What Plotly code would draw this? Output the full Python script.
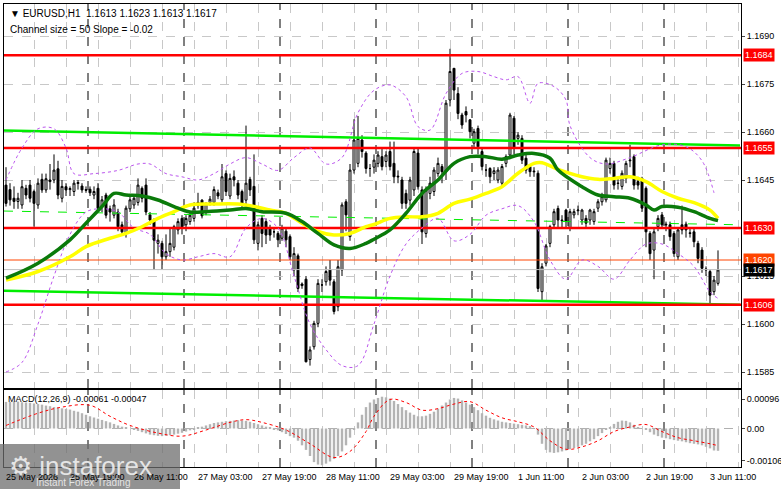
import plotly.graph_objects as go

# ---- data (prices in pips above 1.1600) ----
opens = [43.4,42,39.3,38.3,37.2,42.4,43.4,41.4,37.2,45.2,41.9,45,45,48.5,39.3,42.9,42,41.4,43.9,43.1,42,42.1,40.3,42.4,36.8,40.3,36,34,35,31,28.3,36,37.2,38,42.4,43.4,34.1,32.5,25.2,25.2,21,22.6,24,29.4,33,31,32,
 33,37,38.7,35,38,38,41,38.8,47,40,46,44,41.4,38.7,45.2,43,25.2,33,32,30,28.8,28.3,26.8,29,27.3,16.9,21.3,12.5,14,-11.1,-7.1,0.2,12.2,13.2,16.9,13.2,5.4,16.9,38.2,27.3,48.1,50.2,57.5,53.4,48.6,
 49,50.2,52.3,50.8,53.9,50.2,46.2,45,40.8,38.7,41.9,53.4,41.9,28.3,40.8,41.4,47,49.2,47.6,70,79.9,72,65.3,66.4,63.8,56.5,61.1,53.9,48.1,48.6,47,45,44,50.2,52.8,64.3,58,58,51.8,49.2,47.8,47.1,10.1,19,25.2,31,
 36.1,32.5,35.6,30,34.1,35.4,32.5,33,32.5,32,36.2,38.2,38.8,48.6,50.2,43.9,43,45.5,51,52.3,44.5,45.5,42.4,28.3,23.1,30.4,34.1,31.2,31,28.3,21,31,31.2,28.5,28.8,25.2,23.1,17.2,16.4,10.1,12.7]
closes = [37.7,38.8,38.3,39.3,42.9,40.3,39.3,37.7,44,41.9,45.4,44.5,48.1,40.3,43,41.9,42.3,44,44.2,41.9,41.8,41,41.4,36.2,38.8,34,35,37.2,30.4,28.8,36.2,38.8,39.3,43.4,39.3,35,32.5,26.2,26.2,21,22.6,25.2,30.4,32,30,33,34,
 36.2,38,33.8,37.7,39,42,40,46,41.4,45.5,45,40.3,37.7,44,41.9,26.3,31,28.3,27.8,27.8,28.8,26.3,30,26.3,21,22,11.1,12,-11.8,-8.1,0.2,12.7,12.2,16.4,13.7,3.9,17.9,37.2,34.1,48.1,57.5,58,53.9,48.6,48.6,
 51.2,52.8,49.2,52.8,49.2,46,46,37.7,37.7,45,53.9,42.9,28.8,41.9,44,48.1,50.2,47.6,69,78.9,73.1,65.8,62.2,65.3,60.1,60.1,55.4,49.2,48.1,46,47.9,48.1,49.2,52.3,65.3,54.9,59,51.2,48.1,47.6,47.6,11.1,17.9,24.4,30.4,35.1,
 32.5,32.3,32,35.1,35.1,35.6,35.6,31.5,35.6,35.1,38.2,39.8,51.2,50.2,43.4,44,47.1,50.2,51.2,43.4,43.4,36.2,28.8,22,28.8,33,31,31,27.3,22,29.4,29.4,29.4,28.3,25.7,20.5,17.4,16.9,9,13.7,16.9]
highs = [49,44,43,41,45,43.5,45,42,45.5,47,47,50,53,51,45,44,43,45,45,44,43,43,43,44,40,41,37,39,36,32,37,40,40,45.5,43,45.5,35,33,28,26,28,30,31,33,34,34,35,
 38,41,39,38,40,43,42,50,48,47,48,45,42,62,46,53,32,34,33,31,30,29,31,30,28,24,22,13,15,-7,1,14,14,18,20,14,20,38,39,50,64,65,59,54,50,
 53,54,55,54,57,57,48,46,42,46,55,55,43,43,46,49,52,50,70,86,80,74,66,68,64,61,62,55,50,49,49,49,50,53,66,65,60,59,53,50,49,48,19,25,31,36,
 37,34,36,36,36,37,36,34,36,36,39,41,52,52,51,46,48,51,56,53,46,46,43,29,30,34,35,32,32,29,30,37,32,30,30,26,24,18,17,15,23]
lows = [36.7,37,36,36,36,39,38,30.4,36,41,41,42,44,39,38,40,40,40,42,41,41,40,39,35,35,33,32,33,29,27.5,27,35,36,37,38,34,31,17,22,17,20,21,23,28,28,29,31,
 32,36,33,34,37,37,39,38,40,39,43,39,36,37,40,25,23,24,25,26,27,24,26,24,20,15,10,11,-12,-13,-8,-1,10,12,12,3,4,15,29,26,47,49,52,47,46,
 47,49,48,49,48,44,44,36,36,37,40,42,25,27,39,40,46,44,45,68,70,64,61,63,58,55,53,48,46,44,45,44,43,49,52,53,56,50,47,46,46,10,7,18,24,30,
 30,30,30,29,33,34,31,30,31,31,35,37,38,47,42,42,42,44,49,42,42,35,24,20,14,29,30,29,26,21,20,28,27,27,24,19,16,15,6,9,12]

ma_green_x = [0,8,16,20,24,27,30,34,38,42,46,50,56,60,64,70,74,78,82,86,90,92,96,100,104,108,112,116,120,124,128,132,136,138,144,148,152,156,160,162,164,168,172,176,178]
ma_green_y = [14.3,19,26.3,31.5,36.7,40.8,40.3,40,38.75,36.7,35,35.1,35.6,36.1,35.1,34.6,32,28.3,24.7,23.6,25.2,26.5,29.4,34.6,40.8,45,50.2,52.3,52.3,51.5,52.8,53.3,51.8,48.1,42.9,40.3,39.8,39.3,37.2,35.6,36.7,36.5,35.1,33,32.3]
ma_yellow_x = [0,8,16,20,26,30,34,38,42,46,52,58,62,66,70,74,78,82,86,90,92,96,100,104,108,112,116,120,124,128,132,134,138,144,148,152,156,160,164,168,172,176,178]
ma_yellow_y = [13.75,16.4,21,24.2,26.8,28.3,30.4,33,35.1,37.2,37.5,37.5,36.7,35.6,34.6,31.5,28.9,27.8,28.3,30.4,31.1,33,33.5,33.5,34.6,37.7,39,40.8,42.9,47.1,50.2,50.4,48.3,46,45.2,45.5,46,44.5,41.4,39.3,37.9,35.6,33]
bb_up_x = [0,4,8,12,15,17,22,28,33,36,40,44,48,52,56,60,64,68,72,76,80,84,88,92,96,100,103,106,110,114,118,122,125,128,131,133,137,140,141,146,150,156,164,170,174,177]
bb_up_y = [45,55,61,61,55,47,47,48,50,50,47,46,45,47,50,52,50,48,52,55,50,52,66,73,74.7,71,61.7,60.6,72,78.3,78.9,77.3,76.3,77.3,69,75.2,74.2,70,62,52,50,52,56,55.4,51,41]
bb_lo_x = [0,4,8,12,16,20,24,28,32,36,40,44,48,52,56,60,64,68,72,76,80,84,88,92,96,100,104,108,112,116,120,124,128,132,136,140,144,148,152,156,160,164,168,172,176,178]
bb_lo_y = [-15,-12,0,15,28,35,36,35,30,28,22,20,21,22,21,30,33,30,15,0,-8,-13,-13,0,15,25,30,33,26,28,34,36,37,32,20,14,20,18,14,20,25,25,22,18,10,8]

chan_x = [0, 184]
chan_upper = [60.5, 55.8]
chan_mid = [35.3, 31.0]
chan_lower = [10.4, 6.0]

levels_red = [84, 55, 30, 6]
level_orange = 20
level_last = 17

macd_hist = [87,87,88,88,86,85,84,82,80,78,75,73,70,68,66,64,62,58,55,50,45,
 40,36,32,28,24,20,15,10,6,3,0,-4,-8,-12,-16,-20,-22,-24,-25,-24,
 -22,-20,-17,-14,-10,-6,-2,2,6,10,14,18,20,22,24,25,26,27,26,25,
 22,18,14,10,6,2,-2,-6,-12,-18,-25,-30,-40,-55,-70,-90,-110,-118,-120,-115,
 -108,-100,-90,-75,-55,-30,-5,20,45,70,85,95,100,104,102,98,90,80,70,60,
 52,45,40,40,42,48,55,65,75,85,95,100,98,92,85,78,70,60,50,42,
 35,30,26,22,20,18,16,14,12,10,8,0,-20,-50,-70,-78,-80,-78,-75,-72,
 -68,-64,-60,-55,-50,-42,-35,-25,-15,-5,5,15,22,26,25,20,12,5,0,-5,
 -12,-20,-25,-30,-32,-35,-38,-40,-42,-45,-48,-50,-52,-55,-60,-65,-72,-73]
sig_x = [0,8,14,21,26,31,38,44,50,56,60,64,70,76,82,86,90,92,96,100,104,108,112,116,120,124,128,132,136,140,144,148,152,156,160,164,168,172,176,178]
sig_y = [10,50,70,76,40,10,-15,-25,-5,20,29,20,-5,-50,-95,-75,-10,40,95,85,60,65,80,88,60,35,22,5,-40,-68,-60,-40,-10,5,13,-10,-30,-40,-50,-56]

x_labels = ["25 May 2026","25 May 19:00","26 May 11:00","27 May 03:00","27 May 19:00","28 May 11:00",
            "29 May 03:00","29 May 19:00","1 Jun 11:00","2 Jun 03:00","2 Jun 19:00","3 Jun 11:00"]
day_seps = [21,45,69,93,117,141,165]
price_ticks = [1.1585,1.1600,1.1615,1.1645,1.1660,1.1675,1.1690]

P = lambda v: 1.16 + v / 10000.0
n = len(opens)
xs = [i + 0.5 for i in range(n)]

fig = go.Figure()
for arr, dash, w in [(chan_upper, "solid", 2.5), (chan_lower, "solid", 2.5), (chan_mid, "dash", 1)]:
    fig.add_trace(go.Scatter(x=chan_x, y=[P(v) for v in arr], mode="lines",
                             line=dict(color="#00ee00", width=w, dash=dash), xaxis="x", yaxis="y"))
for lv in levels_red:
    fig.add_trace(go.Scatter(x=[0, 184.25], y=[P(lv)] * 2, mode="lines", line=dict(color="#ff0000", width=2.5)))
fig.add_trace(go.Scatter(x=[0, 184.25], y=[P(level_orange)] * 2, mode="lines", line=dict(color="#ff4500", width=1)))
fig.add_trace(go.Scatter(x=[0, 184.25], y=[P(level_last)] * 2, mode="lines", line=dict(color="#c0c0c0", width=1)))
for bx, by in [(bb_up_x, bb_up_y), (bb_lo_x, bb_lo_y)]:
    fig.add_trace(go.Scatter(x=[b + 0.5 for b in bx], y=[P(v) for v in by], mode="lines",
                             line=dict(color="#bb55ee", width=1, dash="dot", shape="spline")))
fig.add_trace(go.Scatter(x=[b + 0.5 for b in ma_yellow_x], y=[P(v) for v in ma_yellow_y], mode="lines",
                         line=dict(color="#ffff00", width=3.5, shape="spline")))
fig.add_trace(go.Scatter(x=[b + 0.5 for b in ma_green_x], y=[P(v) for v in ma_green_y], mode="lines",
                         line=dict(color="#0a7a0a", width=3.5, shape="spline")))
fig.add_trace(go.Candlestick(x=xs, open=[P(v) for v in opens], high=[P(v) for v in highs],
                             low=[P(v) for v in lows], close=[P(v) for v in closes],
                             increasing=dict(line=dict(color="black", width=1), fillcolor="white"),
                             decreasing=dict(line=dict(color="black", width=1), fillcolor="black"),
                             whiskerwidth=0))
fig.add_trace(go.Bar(x=xs, y=[v / 100000.0 for v in macd_hist], marker=dict(color="#b4b4b4", line=dict(width=0)),
                     width=0.6, xaxis="x2", yaxis="y2"))
fig.add_trace(go.Scatter(x=[b + 0.5 for b in sig_x], y=[v / 100000.0 for v in sig_y], mode="lines",
                         line=dict(color="#ff0000", width=1, dash="dot", shape="spline"), xaxis="x2", yaxis="y2"))

shapes = []
for d in day_seps:
    for yr in ["y", "y2"]:
        shapes.append(dict(type="line", xref="x", yref=yr + " domain", x0=d, x1=d, y0=0, y1=1,
                           line=dict(color="black", width=1, dash="dash"), layer="below"))
shapes.append(dict(type="line", xref="x2 domain", yref="y2", x0=0, x1=1, y0=0, y1=0,
                   line=dict(color="#b0b0b0", width=1, dash="dash"), layer="below"))
shapes.append(dict(type="rect", xref="paper", yref="paper", x0=-4/737, x1=176/737, y0=(467-489)/463, y1=(467-444)/463,
                   fillcolor="rgba(110,110,110,0.75)", line=dict(width=0)))

ann = []
for k, t in enumerate(x_labels):
    ann.append(dict(x=16 * k, y=-0.006, xref="x2", yref="paper", text=t, showarrow=False, xanchor="left",
                    yanchor="top", font=dict(size=9, color="black")))
box = lambda v, bg, fg="white": dict(x=1.0, y=P(v), xref="paper", yref="y", text="%.4f" % P(v), showarrow=False,
                                     xanchor="left", bgcolor=bg, font=dict(size=9, color=fg), borderpad=1, xshift=2)
for lv in levels_red:
    ann.append(box(lv, "#ff0000"))
ann.append(box(level_orange, "#ff4500"))
ann.append(box(level_last, "#000000"))
ann.append(dict(x=0.005, y=0.995, xref="paper", yref="paper", xanchor="left", yanchor="top", showarrow=False,
                text="▼ EURUSD,H1  1.1613 1.1623 1.1613 1.1617", font=dict(size=10, color="black")))
ann.append(dict(x=0.005, y=0.962, xref="paper", yref="paper", xanchor="left", yanchor="top", showarrow=False,
                text="Channel size = 50 Slope = -0.02", font=dict(size=10, color="black")))
ann.append(dict(x=0.003, y=(467-392)/463, xref="paper", yref="paper", xanchor="left", yanchor="top", showarrow=False,
                text="MACD(12,26,9) -0.00061 -0.00047", font=dict(size=9, color="black")))
ann.append(dict(x=3/737, y=(467-449)/463, xref="paper", yref="paper", xanchor="left", yanchor="top", showarrow=False,
                text="⚙ instaforex", font=dict(size=26, color="rgba(235,235,235,0.95)", family="Arial")))
ann.append(dict(x=30/737, y=(467-475)/463, xref="paper", yref="paper", xanchor="left", yanchor="top", showarrow=False,
                text="Instant Forex Trading", font=dict(size=10, color="rgba(235,235,235,0.95)")))

grid = dict(showgrid=True, gridcolor="#c8c8c8", griddash="dash", gridwidth=1)
xcommon = dict(range=[0, 184.25], showline=True, linecolor="black", mirror=True, zeroline=False, automargin=False,
               tickvals=[8 * k + 7.5 for k in range(23)], showticklabels=False, ticks="", **grid)
fig.update_layout(
    width=781, height=489, margin=dict(l=4, r=40, t=4, b=22, autoexpand=False),
    paper_bgcolor="white", plot_bgcolor="white", showlegend=False,
    font=dict(family="Liberation Sans, Arial", size=9, color="black"),
    xaxis=dict(domain=[0, 1], anchor="y", rangeslider=dict(visible=False), **xcommon),
    xaxis2=dict(domain=[0, 1], anchor="y2", matches="x", **xcommon),
    yaxis=dict(domain=[(467-388)/463, 1], range=[P(-20), P(100)], side="right", tickvals=price_ticks,
               tickformat=".4f", showline=True, linecolor="black", mirror=True, ticks="outside", ticklen=3,
               zeroline=False, automargin=False, tickfont=dict(size=9), **grid),
    yaxis2=dict(domain=[0, (467-390)/463], range=[-0.00126, 0.00126], side="right",
                tickvals=[0.00096, 0.0, -0.00106], ticktext=["0.00096", "0.00", "-0.00106"],
                showline=True, linecolor="black", mirror=True, ticks="outside", ticklen=3, zeroline=False,
                showgrid=False, automargin=False, tickfont=dict(size=9)),
    shapes=shapes, annotations=ann, bargap=0.3,
)
fig.write_html("out.html", config={"displayModeBar": False},
               post_script="document.body.style.margin='0';document.body.style.overflow='hidden';")
